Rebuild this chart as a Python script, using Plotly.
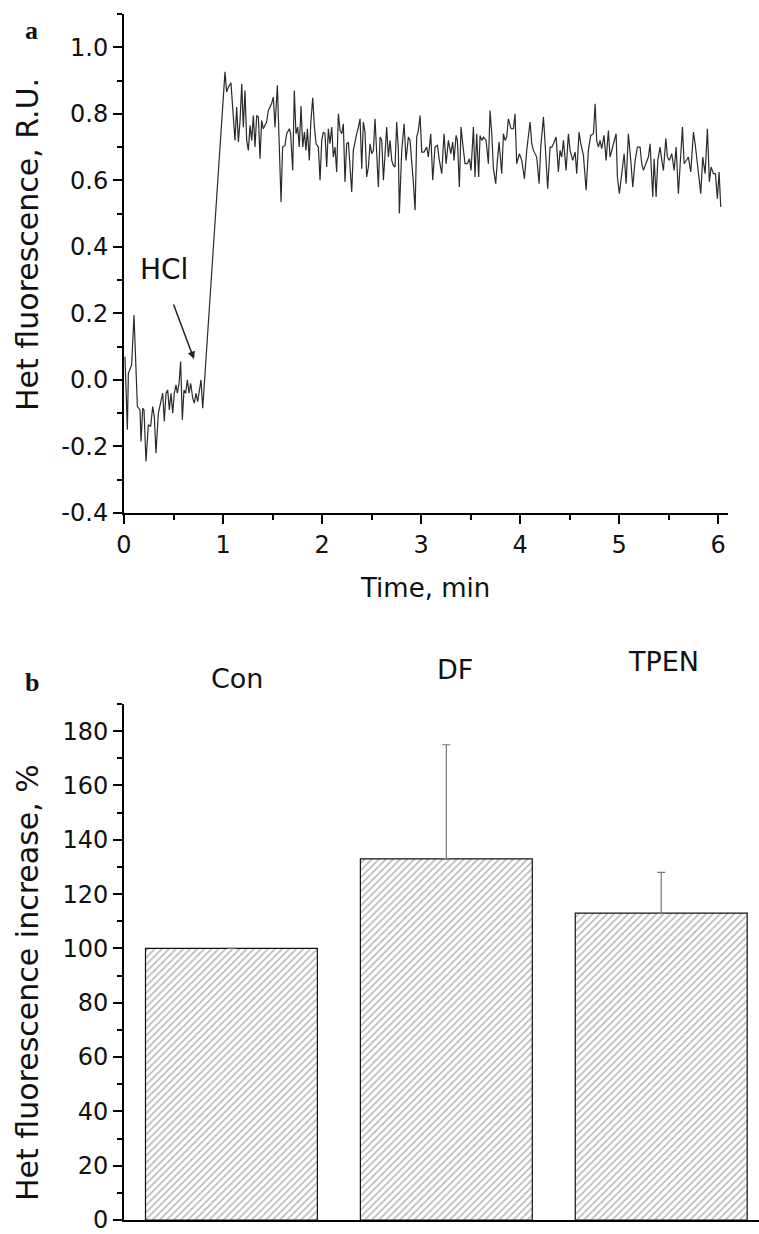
import plotly.graph_objects as go

# ---------------- Panel a data ----------------
time_min = [
    0.010, 0.034, 0.044, 0.077, 0.101, 0.135, 0.162, 0.172, 0.189, 0.202,
    0.222, 0.246, 0.269, 0.290, 0.306, 0.323, 0.347, 0.370, 0.391, 0.407,
    0.424, 0.441, 0.458, 0.475, 0.492, 0.508, 0.525, 0.539, 0.556, 0.572,
    0.589, 0.606, 0.623, 0.640, 0.657, 0.673, 0.694, 0.710, 0.727, 0.744,
    0.761, 0.778, 0.795,
    1.020, 1.037, 1.054, 1.080, 1.104, 1.121, 1.138, 1.155, 1.172, 1.189,
    1.205, 1.222, 1.239, 1.256, 1.273, 1.290, 1.306, 1.323, 1.340, 1.357,
    1.374, 1.390, 1.407, 1.440, 1.458, 1.490, 1.508, 1.525, 1.549,
    1.586, 1.602, 1.626, 1.643, 1.670, 1.683, 1.704, 1.720, 1.737, 1.754,
    1.770, 1.788, 1.805, 1.822, 1.838, 1.852, 1.872, 1.886, 1.906, 1.923,
    1.940, 1.963, 1.980, 1.997, 2.013, 2.030, 2.047, 2.064, 2.080, 2.098,
    2.114, 2.131, 2.148, 2.165, 2.182, 2.199, 2.215, 2.232, 2.249, 2.266,
    2.283, 2.300, 2.316, 2.333, 2.350, 2.367, 2.384, 2.401, 2.417, 2.434,
    2.451, 2.468, 2.485, 2.502, 2.519, 2.535, 2.552, 2.569, 2.586, 2.603,
    2.620, 2.636, 2.653, 2.670, 2.687, 2.704, 2.720, 2.737, 2.754, 2.771,
    2.781,
    2.805, 2.829, 2.848, 2.872, 2.889, 2.906, 2.923, 2.940, 2.956, 2.973,
    2.990, 3.007, 3.030, 3.057, 3.074, 3.098, 3.118, 3.141, 3.165, 3.185,
    3.209, 3.232, 3.253, 3.276, 3.300, 3.320, 3.333, 3.354, 3.367, 3.387,
    3.404, 3.421, 3.444, 3.468, 3.488, 3.505, 3.529, 3.545, 3.562, 3.582,
    3.596, 3.613, 3.630, 3.657, 3.680, 3.697, 3.714, 3.731, 3.754, 3.771,
    3.788, 3.815, 3.832, 3.848, 3.865, 3.882, 3.909, 3.933, 3.949, 3.966,
    3.993, 4.017, 4.044, 4.067, 4.101, 4.118, 4.135, 4.168, 4.192, 4.209,
    4.236, 4.253, 4.279, 4.303, 4.320, 4.337, 4.364, 4.387, 4.404, 4.421,
    4.438, 4.465, 4.488, 4.505, 4.532, 4.556, 4.572, 4.596, 4.613, 4.640,
    4.667, 4.690, 4.714, 4.741, 4.758, 4.774, 4.791, 4.808, 4.825, 4.848,
    4.869, 4.892, 4.909, 4.943, 4.970, 4.983, 5.003, 5.027, 5.051, 5.071,
    5.094, 5.118, 5.138, 5.162, 5.185, 5.212, 5.229, 5.246, 5.273, 5.296,
    5.313, 5.340, 5.354, 5.374, 5.391, 5.414, 5.431, 5.448, 5.472, 5.488,
    5.508, 5.532, 5.556, 5.576, 5.599, 5.616, 5.640, 5.657, 5.677, 5.700,
    5.724, 5.751, 5.768, 5.785, 5.801, 5.825, 5.845, 5.869, 5.892, 5.912,
    5.929, 5.953, 5.973, 5.993, 6.010, 6.027,
]

het_fluorescence = [
    0.070, -0.150, 0.020, 0.045, 0.195, -0.080, -0.090, -0.185, -0.085, -0.090,
    -0.245, -0.135, -0.140, -0.080, -0.110, -0.220, -0.100, -0.070, -0.040, -0.125,
    -0.040, -0.030, -0.090, -0.040, -0.100, -0.040, -0.015, -0.040, -0.010, 0.055,
    -0.120, -0.030, -0.040, 0.000, -0.040, -0.010, -0.055, -0.070, -0.040, -0.065,
    -0.030, 0.000, -0.085,
    0.926, 0.866, 0.880, 0.893, 0.800, 0.720, 0.820, 0.715, 0.780, 0.890,
    0.760, 0.870, 0.720, 0.690, 0.765, 0.720, 0.795, 0.700, 0.795, 0.790,
    0.665, 0.780, 0.755, 0.775, 0.810, 0.830, 0.850, 0.760, 0.886,
    0.535, 0.700, 0.705, 0.740, 0.755, 0.740, 0.630, 0.870, 0.740, 0.760,
    0.700, 0.823, 0.700, 0.745, 0.690, 0.755, 0.660, 0.770, 0.848, 0.760,
    0.710, 0.700, 0.600, 0.720, 0.745, 0.740, 0.640, 0.755, 0.710, 0.760,
    0.670, 0.700, 0.625, 0.800, 0.750, 0.740, 0.770, 0.595, 0.710, 0.715,
    0.640, 0.565, 0.690, 0.720, 0.740, 0.760, 0.785, 0.635, 0.775, 0.745,
    0.610, 0.640, 0.710, 0.680, 0.690, 0.785, 0.690, 0.580, 0.730, 0.720,
    0.600, 0.670, 0.760, 0.670, 0.720, 0.660, 0.645, 0.640, 0.775, 0.690,
    0.500,
    0.690, 0.770, 0.660, 0.730, 0.720, 0.660, 0.590, 0.510, 0.730, 0.750,
    0.795, 0.685, 0.685, 0.700, 0.670, 0.740, 0.600, 0.700, 0.705, 0.660,
    0.620, 0.740, 0.650, 0.720, 0.680, 0.715, 0.660, 0.735, 0.720, 0.580,
    0.760, 0.710, 0.650, 0.650, 0.665, 0.630, 0.760, 0.610, 0.740, 0.610,
    0.735, 0.720, 0.730, 0.720, 0.650, 0.810, 0.740, 0.635, 0.590, 0.660,
    0.715, 0.620, 0.740, 0.720, 0.730, 0.785, 0.755, 0.755, 0.800, 0.650,
    0.680, 0.660, 0.605, 0.690, 0.775, 0.710, 0.690, 0.670, 0.590, 0.700,
    0.790, 0.710, 0.575, 0.700, 0.700, 0.710, 0.730, 0.625, 0.690, 0.670,
    0.720, 0.630, 0.740, 0.690, 0.660, 0.685, 0.620, 0.745, 0.710, 0.675,
    0.570, 0.690, 0.735, 0.740, 0.830, 0.720, 0.700, 0.720, 0.695, 0.735,
    0.660, 0.750, 0.670, 0.710, 0.740, 0.610, 0.560, 0.620, 0.680, 0.590,
    0.740, 0.660, 0.580, 0.660, 0.700, 0.700, 0.650, 0.630, 0.650, 0.670,
    0.710, 0.550, 0.665, 0.550, 0.660, 0.700, 0.660, 0.630, 0.726, 0.670,
    0.660, 0.680, 0.630, 0.700, 0.560, 0.650, 0.760, 0.650, 0.660, 0.670,
    0.625, 0.745, 0.710, 0.660, 0.610, 0.560, 0.670, 0.620, 0.755, 0.595,
    0.640, 0.620, 0.620, 0.545, 0.625, 0.520,
]

y_a_tickvals = [-0.4, -0.2, 0.0, 0.2, 0.4, 0.6, 0.8, 1.0]
y_a_ticktext = ["-0.4", "-0.2", "0.0", "0.2", "0.4", "0.6", "0.8", "1.0"]
x_a_tickvals = [0, 1, 2, 3, 4, 5, 6]

# ---------------- Panel b data ----------------
treatments = ["Con", "DF", "TPEN"]
increase_pct = [100, 133, 113]
increase_err = [0, 42, 15]

W, H = 759, 1234
FONT = "DejaVu Sans"

fig = go.Figure()

fig.add_trace(go.Scatter(
    x=time_min, y=het_fluorescence, mode="lines",
    line=dict(color="#2a2a2a", width=1.2),
    xaxis="x", yaxis="y", showlegend=False,
))

fig.add_trace(go.Bar(
    x=treatments, y=increase_pct, width=0.8,
    marker=dict(
        color="white",
        line=dict(color="#111111", width=1.2),
        pattern=dict(shape="/", fgcolor="#6a6a6a", bgcolor="white",
                     size=5, solidity=0.3),
    ),
    error_y=dict(type="data", array=increase_err, symmetric=False,
                 arrayminus=[0, 0, 0], color="#777777", thickness=1.2, width=4),
    xaxis="x2", yaxis="y2", showlegend=False,
))

tick_font = dict(family=FONT, size=24, color="#111111")
axis_common = dict(showline=True, linecolor="black", linewidth=2,
                   showgrid=False, zeroline=False, mirror=False, automargin=False,
                   ticklabeloverflow="allow",
                   ticks="outside", ticklen=9, tickwidth=2, tickcolor="black",
                   tickfont=tick_font)

fig.update_layout(
    width=W, height=H, autosize=False,
    margin=dict(l=0, r=0, t=0, b=0, pad=0, autoexpand=False),
    paper_bgcolor="white", plot_bgcolor="white",
    xaxis=dict(domain=[124 / W, 728 / W], range=[0, 6.1],
               tickvals=x_a_tickvals, anchor="y",
               minor=dict(dtick=0.5, tick0=0, ticks="outside", ticklen=5,
                          tickwidth=2, tickcolor="black", showgrid=False),
               **axis_common),
    yaxis=dict(domain=[(H - 513) / H, (H - 14) / H], range=[-0.4, 1.1],
               tickvals=y_a_tickvals, ticktext=y_a_ticktext, anchor="x",
               minor=dict(dtick=0.1, tick0=-0.4, ticks="outside", ticklen=5,
                          tickwidth=2, tickcolor="black", showgrid=False),
               **axis_common),
    xaxis2=dict(domain=[124 / W, 1.0], range=[-0.5, 2.455], anchor="y2",
                showline=True, linecolor="black", linewidth=2, automargin=False,
                showgrid=False, zeroline=False, ticks="", showticklabels=False),
    yaxis2=dict(domain=[(H - 1220) / H, (H - 704) / H], range=[0, 190],
                dtick=20, tick0=0, anchor="x2",
                minor=dict(dtick=10, tick0=0, ticks="outside", ticklen=5,
                           tickwidth=2, tickcolor="black", showgrid=False),
                **axis_common),
)

def label(text, x, y, size, family=FONT, angle=0, xref="paper", yref="paper", xshift=0):
    return dict(text=text, xref=xref, yref=yref, x=x, y=y, textangle=angle,
                xanchor="center", yanchor="middle", xshift=xshift,
                showarrow=False, font=dict(family=family, size=size, color="#111111"))

ann = [
    label("<b>a</b>", 31 / W, 1 - 31 / H, 26, family="Liberation Serif"),
    label("<b>b</b>", 32 / W, 1 - 682 / H, 26, family="Liberation Serif"),
    label("Het fluorescence, R.U.", 27 / W, 1 - 245 / H, 30, angle=-90),
    label("Time, min", 425 / W, 1 - 588 / H, 26),
    label("Het fluorescence increase, %", 27 / W, 1 - 983 / H, 30, angle=-90),
    label("HCl", 0.404, 0.333, 28, xref="x", yref="y"),
    dict(text="", xref="x", yref="y", x=0.707, y=0.063, ax=-21, ay=-56,
         showarrow=True, arrowhead=2, arrowsize=1, arrowwidth=1.5,
         arrowcolor="#222222"),
]
label_y = [678, 669, 661]
label_shift = [6, 9, 2]
for name, ly, xs in zip(treatments, label_y, label_shift):
    ann.append(label(name, name, 1 - ly / H, 27, xref="x2", xshift=xs))
fig.update_layout(annotations=ann)

fig.write_html("out.html", config={"displayModeBar": False},
               post_script="document.body.style.margin='0';document.body.style.overflow='hidden';")
